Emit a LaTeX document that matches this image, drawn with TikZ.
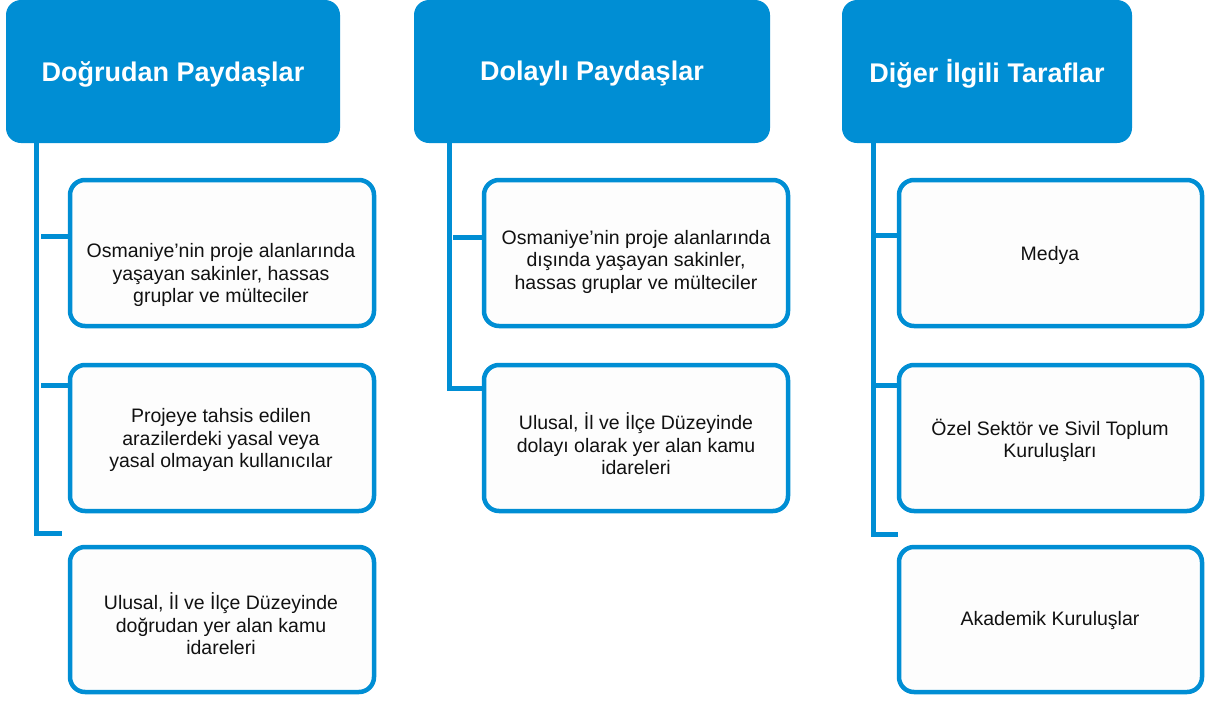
\documentclass[tikz,border=0pt]{standalone}
\usepackage{fontspec}
\setmainfont{Liberation Sans}
\definecolor{mainblue}{RGB}{0,142,212}
\definecolor{boxfill}{RGB}{253,253,253}
\definecolor{txtcol}{RGB}{17,17,17}
\begin{document}
\begin{tikzpicture}[x=1pt,y=-1pt,
  header/.style={fill=mainblue, rounded corners=15pt, minimum height=143pt,
    inner sep=0pt, outer sep=0pt, text=white,
    font=\fontsize{27}{32}\selectfont\bfseries},
  headtext/.style={text=white, inner sep=0pt,
    font=\fontsize{27}{32}\selectfont\bfseries},
  itembox/.style={draw=mainblue, line width=4.5pt, fill=boxfill, rounded corners=15pt,
    minimum width=304pt, minimum height=146pt, inner sep=0pt, outer sep=0pt},
  itemtext/.style={align=center, text=txtcol, inner sep=0pt,
    font=\fontsize{19.5}{22.5}\selectfont},
  conn/.style={draw=mainblue, line width=5pt}
]
\useasboundingbox (0,0) rectangle (1205,702);
\fill[white] (0,0) rectangle (1205,702);

% headers
\node[header, minimum width=334pt] (h1) at (173,71.5) {};
\node[header, minimum width=356pt] (h2) at (592,71.5) {};
\node[header, minimum width=290pt] (h3) at (987,71.5) {};
\node[headtext] (ht1) at (173,74) {Doğrudan Paydaşlar};
\node[headtext] (ht2) at (592,74) {Dolaylı Paydaşlar};
\node[headtext] (ht3) at (987,74) {Diğer İlgili Taraflar};

% boxes column 1
\node[itembox] (b11) at (222,253) {};
\node[itembox] (b12) at (222,438) {};
\node[itembox, minimum height=145pt] (b13) at (222,619.5) {};
% boxes column 2
\node[itembox] (b21) at (636,253) {};
\node[itembox] (b22) at (636,438) {};
% boxes column 3
\node[itembox, minimum width=303pt] (b31) at (1050.5,253) {};
\node[itembox, minimum width=303pt] (b32) at (1050.5,438) {};
\node[itembox, minimum width=303pt, minimum height=145pt] (b33) at (1050.5,619.5) {};

% texts
\node[itemtext] (t11) at (221,275) {Osmaniye’nin proje alanlarında\\yaşayan sakinler, hassas\\gruplar ve mülteciler};
\node[itemtext] (t12) at (221,440) {Projeye tahsis edilen\\arazilerdeki yasal veya\\yasal olmayan kullanıcılar};
\node[itemtext] (t13) at (221,624) {Ulusal, İl ve İlçe Düzeyinde\\doğrudan yer alan kamu\\idareleri};
\node[itemtext] (t21) at (636,261.5) {Osmaniye’nin proje alanlarında\\dışında yaşayan sakinler,\\hassas gruplar ve mülteciler};
\node[itemtext] (t22) at (636,444) {Ulusal, İl ve İlçe Düzeyinde\\dolayı olarak yer alan kamu\\idareleri};
\node[itemtext] (t31) at (1050,255) {Medya};
\node[itemtext] (t32) at (1050,440.5) {Özel Sektör ve Sivil Toplum\\Kuruluşları};
\node[itemtext] (t33) at (1050,620) {Akademik Kuruluşlar};

% spine coordinates
\coordinate (s1bot) at (36,533.5);
\coordinate (s1end) at (62,533.5);
\coordinate (s1a) at (41,236);
\coordinate (s1b) at (41,385);
\coordinate (s2bot) at (449,388.5);
\coordinate (s2end) at (482,388.5);
\coordinate (s2a) at (453,237);
\coordinate (s3bot) at (873,534);
\coordinate (s3end) at (898,534);
\coordinate (s3a) at (873,235);
\coordinate (s3b) at (873,385);

% connectors column 1
\draw[conn] (h1.south -| s1bot) -- (s1bot) -- (s1end);
\draw[conn] (s1a) -- (s1a -| b11.west);
\draw[conn] (s1b) -- (s1b -| b12.west);
% connectors column 2
\draw[conn] (h2.south -| s2bot) -- (s2bot) -- (s2end);
\draw[conn] (s2a) -- (s2a -| b21.west);
% connectors column 3
\draw[conn] (h3.south -| s3bot) -- (s3bot) -- (s3end);
\draw[conn] (s3a) -- (s3a -| b31.west);
\draw[conn] (s3b) -- (s3b -| b32.west);
\end{tikzpicture}
\end{document}
